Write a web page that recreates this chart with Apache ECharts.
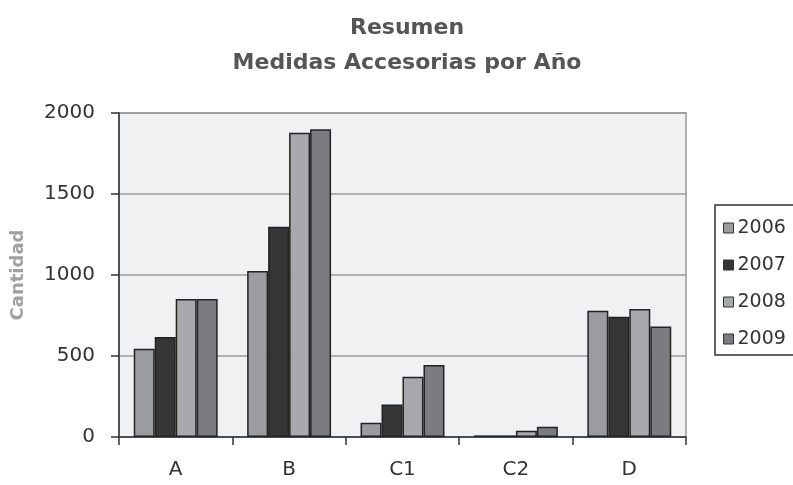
<!DOCTYPE html>
<html>
<head>
<meta charset="utf-8">
<script src="https://cdn.jsdelivr.net/npm/echarts@6/dist/echarts.min.js"></script>
<style>
  html, body { margin: 0; padding: 0; background: #ffffff; }
  #chart { width: 793px; height: 485px; }
</style>
</head>
<body>
<div id="chart"></div>
<script>
// Categories and yearly values
const categories = ['A', 'B', 'C1', 'C2', 'D'];
const years = ['2006', '2007', '2008', '2009'];
const values2006 = [545, 1025, 88, 10, 780];
const values2007 = [618, 1298, 200, 10, 742];
const values2008 = [852, 1878, 372, 38, 790];
const values2009 = [852, 1900, 445, 64, 682];
const yTicks = { min: 0, max: 2000, interval: 500 };

const seriesValues = [values2006, values2007, values2008, values2009];
const seriesColors = ['#9b9ca0', '#363636', '#a8a9ac', '#7b7c80'];

const FONT = 'DejaVu Sans';

const chart = echarts.init(document.getElementById('chart'), null, { renderer: 'canvas' });

chart.setOption({
  animation: false,
  backgroundColor: '#ffffff',
  title: {
    text: 'Resumen\nMedidas Accesorias por Año',
    left: 402,
    top: 6,
    textAlign: 'center',
    textStyle: {
      fontFamily: FONT,
      fontWeight: 'bold',
      fontSize: 22,
      lineHeight: 35,
      color: '#555555'
    }
  },
  legend: {
    orient: 'vertical',
    left: 715,
    top: 205,
    data: years,
    itemWidth: 10,
    itemHeight: 10,
    itemGap: 17,
    padding: [13, 8, 6, 8],
    borderColor: '#333333',
    borderWidth: 1.5,
    icon: 'rect',
    textStyle: {
      fontFamily: FONT,
      fontSize: 19,
      lineHeight: 20,
      color: '#333333',
      padding: [0, 0, 0, -1]
    },
    itemStyle: { borderColor: '#333333', borderWidth: 1 }
  },
  grid: {
    left: 119,
    right: 107,
    top: 113,
    bottom: 48,
    show: true,
    backgroundColor: '#f0f1f3',
    borderColor: '#999999',
    borderWidth: 1.5
  },
  xAxis: {
    type: 'category',
    data: categories,
    axisLine: { lineStyle: { color: '#333333', width: 1.5 } },
    axisTick: { show: true, length: 8, lineStyle: { color: '#333333', width: 1.5 } },
    axisLabel: {
      fontFamily: FONT,
      fontSize: 20,
      color: '#333333',
      margin: 23
    }
  },
  yAxis: {
    type: 'value',
    min: yTicks.min,
    max: yTicks.max,
    interval: yTicks.interval,
    name: 'Cantidad',
    nameLocation: 'middle',
    nameGap: 92,
    nameTextStyle: {
      fontFamily: FONT,
      fontWeight: 'bold',
      fontSize: 18,
      color: '#a0a0a0'
    },
    axisLine: { show: true, lineStyle: { color: '#333333', width: 1.5 } },
    axisTick: { show: true, length: 8, lineStyle: { color: '#333333', width: 1.5 } },
    axisLabel: {
      fontFamily: FONT,
      fontSize: 20,
      color: '#333333',
      margin: 24,
      formatter: (v) => String(v)
    },
    splitLine: { show: true, lineStyle: { color: '#9a9a9a', width: 1.5 } }
  },
  series: years.map((y, i) => ({
    name: y,
    type: 'bar',
    data: seriesValues[i],
    barGap: '0%',
    barCategoryGap: '26%',
    itemStyle: {
      color: seriesColors[i],
      borderColor: '#222222',
      borderWidth: 1.5
    }
  }))
});
</script>
</body>
</html>
